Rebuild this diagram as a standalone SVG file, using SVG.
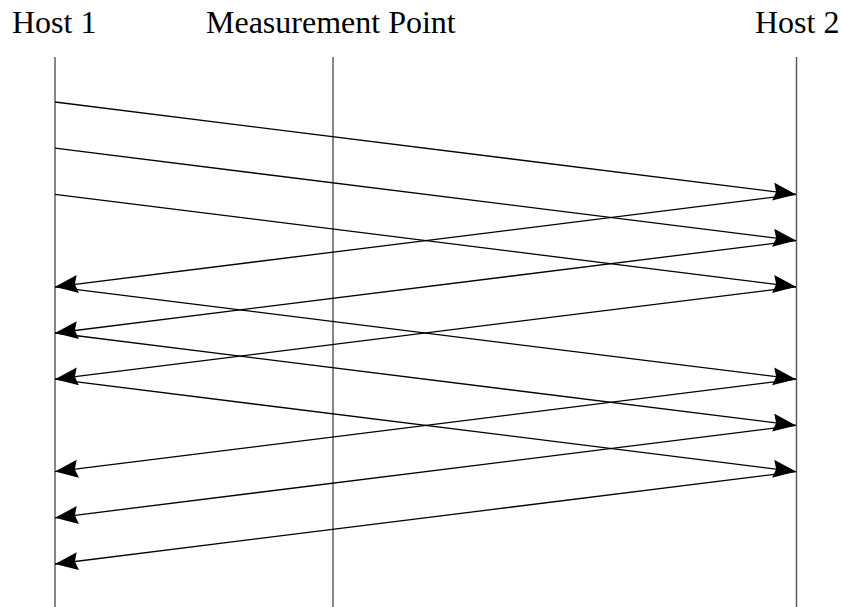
<svg xmlns="http://www.w3.org/2000/svg" width="841" height="607" viewBox="0 0 841 607">
<style>
.lbl{font-family:"Liberation Serif","Times New Roman",serif;font-size:32px;fill:#000}
.life{stroke:#555;stroke-width:1.4;fill:none}
.msg{stroke:#000;stroke-width:1.3;fill:none;marker-end:url(#ah)}
</style>
<defs>
<marker id="ah" markerUnits="userSpaceOnUse" markerWidth="26" markerHeight="22" refX="23" refY="9" orient="auto">
<path d="M0,0 L23,9 L0,18 L3,9 Z" fill="#000"/>
</marker>
</defs>
<rect width="841" height="607" fill="#fff"/>
<g id="host1">
<text class="lbl" x="12" y="33">Host 1</text>
<line class="life" x1="55" y1="57" x2="55" y2="607"/>
</g>
<g id="measurement-point">
<text class="lbl" x="206" y="33">Measurement Point</text>
<line class="life" x1="333" y1="57" x2="333" y2="607"/>
</g>
<g id="host2">
<text class="lbl" x="755" y="33">Host 2</text>
<line class="life" x1="796.5" y1="57" x2="796.5" y2="607"/>
</g>
<g id="connectors">
<line class="msg" x1="55" y1="102" x2="796" y2="194.4"/>
<line class="msg" x1="55" y1="148.2" x2="796" y2="240.6"/>
<line class="msg" x1="55" y1="194.4" x2="796" y2="286.8"/>
<line class="msg" x1="796" y1="194.4" x2="55" y2="286.8"/>
<line class="msg" x1="796" y1="240.6" x2="55" y2="333"/>
<line class="msg" x1="796" y1="286.8" x2="55" y2="379.2"/>
<line class="msg" x1="55" y1="286.8" x2="796" y2="379.2"/>
<line class="msg" x1="55" y1="333" x2="796" y2="425.4"/>
<line class="msg" x1="55" y1="379.2" x2="796" y2="471.6"/>
<line class="msg" x1="796" y1="379.2" x2="55" y2="471.6"/>
<line class="msg" x1="796" y1="425.4" x2="55" y2="517.8"/>
<line class="msg" x1="796" y1="471.6" x2="55" y2="564"/>
</g>
</svg>
